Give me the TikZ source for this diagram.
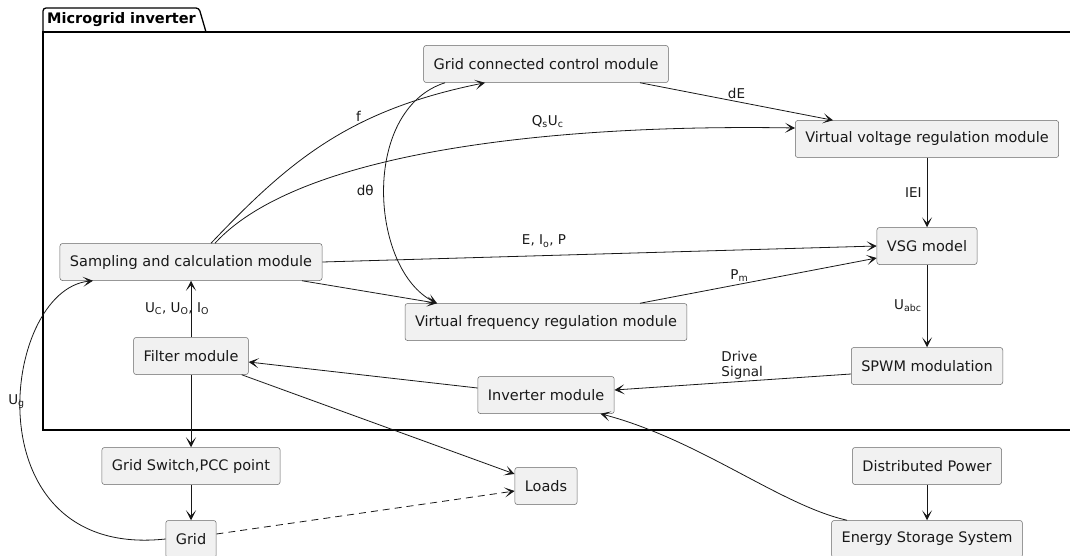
\documentclass[tikz,border=0pt]{standalone}
\usepackage{fontspec}
\setmainfont{DejaVu Sans}
\usetikzlibrary{arrows.meta}

\definecolor{boxgray}{HTML}{F1F1F1}
\definecolor{edgegray}{HTML}{181818}

\tikzset{
  module/.style={draw=black!60, line width=0.5pt, fill=boxgray, rounded corners=2.5pt,
    minimum height=37pt, inner xsep=10pt, font=\fontsize{14.5}{17}\selectfont, text=black!90},
  sig/.style={draw=edgegray, line width=0.8pt, -{Stealth[length=10pt,width=10pt,inset=5.5pt]}},
  lbl/.style={font=\fontsize{13.5}{15}\selectfont, inner sep=2pt, text=black!90}
}

\begin{document}
\begin{tikzpicture}[x=1pt,y=-1pt]
    \clip (0,0) rectangle (1070,556);

    % Package frame
    \draw[line width=1.3pt] (1080,32) -- (43,32) -- (43,430) -- (1080,430);
    \draw[line width=1.3pt, rounded corners=3pt] (43,32) -- (43,8) -- (199,8) -- (206,32);
    \node[font=\bfseries\fontsize{14.5}{17}\selectfont, anchor=west, inner sep=0pt] (ttl) at (47,20) {Microgrid inverter};

    % Modules
    \node[module] (gcc) at (546,64) {Grid connected control module};
    \node[module] (vvr) at (927,139) {Virtual voltage regulation module};
    \node[module] (vsg) at (927,246) {VSG model};
    \node[module] (spwm) at (927,366) {SPWM modulation};
    \node[module] (sam) at (191,262) {Sampling and calculation module};
    \node[module] (vfr) at (546,322) {Virtual frequency regulation module};
    \node[module] (inv) at (546,395) {Inverter module};
    \node[module] (filt) at (191,356) {Filter module};
    \node[module] (pcc) at (191,466) {Grid Switch,PCC point};
    \node[module] (grid) at (191,539) {Grid};
    \node[module] (loads) at (546,486) {Loads};
    \node[module] (dpow) at (927,466) {Distributed Power};
    \node[module] (ess) at (927,539) {Energy Storage System};

    % Signals inside the inverter
    \draw[sig] ([xshift=20pt]sam.north) .. controls (290,160) and (350,110) .. node[lbl, pos=0.62, above] (f) {f} ([xshift=-61pt]gcc.south);
    \draw[sig] ([xshift=24pt]sam.north) .. controls (300,150) and (560,124) .. node[lbl, pos=0.65, above=6pt] (qu) {Q\textsubscript{s}U\textsubscript{c}} ([yshift=11pt]vvr.west);
    \draw[sig] ([xshift=-101pt]gcc.south) .. controls (360,110) and (370,270) .. node[lbl, pos=0.5, left=8pt] (dth) {dθ} ([xshift=-109pt]vfr.north);
    \draw[sig] ([xshift=94pt]gcc.south) -- node[lbl, above] (de) {dE} ([xshift=-94pt]vvr.north);
    \draw[sig] (vvr) -- node[lbl, left=3pt] (ee) {IEI} (vsg);
    \draw[sig] (sam.east) -- node[lbl, pos=0.4, above=6pt] (eip) {E, I\textsubscript{o}, P} (vsg.west);
    \draw[sig] ([xshift=111pt]sam.south) -- ([xshift=-109pt]vfr.north);
    \draw[sig] ([xshift=94pt]vfr.north) -- node[lbl, pos=0.42, above] (pm) {P\textsubscript{m}} ([yshift=-12pt]vsg.west);
    \draw[sig] (vsg) -- node[lbl, left=3pt] (uabc) {U\textsubscript{abc}} (spwm);
    \draw[sig] ([yshift=-8pt]spwm.west) -- node[lbl, pos=0.46, above, align=left] (drv) {Drive\\Signal} ([yshift=5pt]inv.east);
    \draw[sig] ([yshift=7pt]inv.west) -- ([yshift=-6pt]filt.east);
    \draw[sig] (filt) -- node[lbl, xshift=-14pt] (uuo) {U\textsubscript{C}, U\textsubscript{O}, I\textsubscript{O}} (sam);

    % Outside the inverter
    \draw[sig] (filt) -- (pcc);
    \draw[sig] ([xshift=-7pt]filt.south east) -- ([yshift=12pt]loads.west);
    \draw[sig] (pcc) -- (grid);
    \draw[sig, dash pattern=on 7pt off 5pt] ([yshift=5pt]grid.east) -- ([yshift=-5pt]loads.west);
    \draw[sig] (grid.west) .. controls (-30,560) and (0,290) .. node[lbl, pos=0.55, xshift=-4pt] (ug) {U\textsubscript{g}} ([xshift=-98pt]sam.south);
    \draw[sig] ([xshift=-80pt]ess.north) .. controls (780,505) and (700,440) .. ([xshift=-14pt]inv.south east);
    \draw[sig] (dpow) -- (ess);

\end{tikzpicture}
\end{document}
